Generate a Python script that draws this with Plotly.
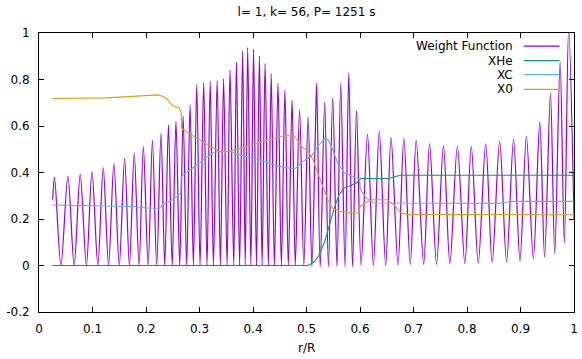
import plotly.graph_objects as go

# ---------------- data ----------------
title_text = "l= 1, k= 56, P= 1251 s"
x_label = "r/R"
series_names = ["Weight Function", "XHe", "XC", "X0"]
series_colors = ["#9400D3", "#009E73", "#56B4E9", "#E69F00"]

x_tick_vals = [0, 0.1, 0.2, 0.3, 0.4, 0.5, 0.6, 0.7, 0.8, 0.9, 1.0]
x_tick_text = ["0", "0.1", "0.2", "0.3", "0.4", "0.5", "0.6", "0.7", "0.8", "0.9", "1"]
y_tick_vals = [-0.2, 0, 0.2, 0.4, 0.6, 0.8, 1.0]
y_tick_text = ["-0.2", "0", "0.2", "0.4", "0.6", "0.8", "1"]

# Weight function: start/end points, maxima and minima
wf_start = (0.0256, 0.284)
wf_end = (1.0, 0.20)
wf_peak_x = [0.029, 0.054, 0.077, 0.099, 0.120, 0.140, 0.160, 0.178, 0.195, 0.212,
             0.228, 0.242, 0.256, 0.2694, 0.2824, 0.2948, 0.3078, 0.320, 0.333, 0.345,
             0.357, 0.369, 0.3806, 0.390, 0.401, 0.412, 0.4226, 0.434, 0.4467, 0.4596,
             0.473, 0.487, 0.503, 0.5165, 0.519, 0.534, 0.549, 0.564, 0.579, 0.5935,
             0.614, 0.636, 0.658, 0.682, 0.705, 0.730, 0.756, 0.782, 0.808, 0.835,
             0.861, 0.887, 0.911, 0.936, 0.956, 0.974, 0.990]
wf_peak_y = [0.380, 0.385, 0.392, 0.404, 0.421, 0.438, 0.461, 0.483, 0.513, 0.539,
             0.568, 0.604, 0.620, 0.643, 0.690, 0.777, 0.787, 0.792, 0.795, 0.803,
             0.841, 0.876, 0.922, 0.937, 0.930, 0.902, 0.869, 0.825, 0.785, 0.754,
             0.712, 0.670, 0.639, 0.575, 0.785, 0.703, 0.722, 0.785, 0.827, 0.666,
             0.564, 0.576, 0.551, 0.547, 0.537, 0.524, 0.516, 0.513, 0.513, 0.523,
             0.534, 0.542, 0.556, 0.618, 0.740, 0.875, 1.020]
wf_trough_x = [0.041, 0.0657, 0.0886, 0.110, 0.130, 0.150, 0.169, 0.187, 0.204, 0.220,
               0.235, 0.249, 0.263, 0.276, 0.2886, 0.301, 0.314, 0.326, 0.339, 0.3515,
               0.364, 0.375, 0.3855, 0.396, 0.4065, 0.417, 0.4287, 0.440, 0.453, 0.466,
               0.479, 0.495, 0.510, 0.5256, 0.541, 0.557, 0.572, 0.586, 0.602, 0.625,
               0.648, 0.671, 0.694, 0.719, 0.743, 0.768, 0.796, 0.821, 0.847, 0.874,
               0.899, 0.924, 0.945, 0.964, 0.982]
wf_trough_y = [0, 0, 0, 0, 0, 0, 0, 0, 0, 0,
               0, 0, 0, 0, 0, 0, 0, 0, 0, 0,
               0, 0, 0, 0, 0, 0, 0, 0, 0, 0,
               0, 0, -0.005, -0.007, -0.005, -0.005, -0.007, -0.005, 0.0, 0.0,
               0.0, 0.003, 0.005, 0.005, 0.006, 0.007, 0.008, 0.010, 0.013, 0.015,
               0.020, 0.029, 0.036, 0.050, 0.097]

# Helium mass fraction
xhe_x = [0.025, 0.503, 0.515, 0.524, 0.534, 0.543, 0.552, 0.561, 0.571, 0.583,
         0.595, 0.601, 0.654, 0.663, 0.676, 1.0]
xhe_y = [0.0, 0.0, 0.017, 0.046, 0.103, 0.175, 0.247, 0.305, 0.334, 0.344,
         0.358, 0.374, 0.374, 0.381, 0.388, 0.388]

# Carbon mass fraction
xc_x = [0.025, 0.176, 0.200, 0.225, 0.234, 0.2496, 0.262, 0.265, 0.266, 0.290,
        0.308, 0.327, 0.339, 0.355, 0.373, 0.410, 0.447, 0.466, 0.478, 0.4935,
        0.509, 0.521, 0.534, 0.540, 0.549, 0.558, 0.571, 0.586, 0.5985, 0.601,
        0.611, 0.620, 0.629, 0.858, 0.882, 1.0]
xc_y = [0.260, 0.254, 0.247, 0.246, 0.266, 0.283, 0.305, 0.310, 0.384, 0.427,
        0.456, 0.487, 0.491, 0.491, 0.477, 0.456, 0.427, 0.420, 0.415, 0.448,
        0.470, 0.513, 0.546, 0.542, 0.499, 0.441, 0.398, 0.384, 0.372, 0.326,
        0.293, 0.276, 0.269, 0.267, 0.276, 0.276]

# Oxygen mass fraction
xo_x = [0.025, 0.126, 0.222, 0.231, 0.240, 0.2496, 0.262, 0.266, 0.2665, 0.274,
        0.299, 0.324, 0.339, 0.355, 0.373, 0.410, 0.441, 0.460, 0.478, 0.490,
        0.503, 0.512, 0.521, 0.531, 0.540, 0.549, 0.561, 0.580, 0.5985, 0.600,
        0.611, 0.623, 0.651, 0.663, 0.676, 0.688, 1.0]
xo_y = [0.718, 0.721, 0.734, 0.728, 0.714, 0.688, 0.678, 0.657, 0.592, 0.578,
        0.542, 0.506, 0.487, 0.491, 0.502, 0.528, 0.549, 0.559, 0.556, 0.513,
        0.491, 0.456, 0.398, 0.341, 0.283, 0.247, 0.233, 0.228, 0.226, 0.254,
        0.272, 0.283, 0.283, 0.262, 0.228, 0.220, 0.2185]

# ---------------- build the weight-function polyline from the read extrema ----------------
wf_pts = [wf_start] + list(zip(wf_peak_x, wf_peak_y)) + list(zip(wf_trough_x, wf_trough_y)) + [wf_end]
wf_pts.sort(key=lambda p: p[0])
wf_x = [p[0] for p in wf_pts]
wf_y = [p[1] for p in wf_pts]

FONT = "DejaVu Sans"

fig = go.Figure()
fig.add_trace(go.Scatter(x=wf_x, y=wf_y, mode="lines", name=series_names[0],
                         line=dict(color=series_colors[0], width=1.2, shape="spline", smoothing=0.9)))
fig.add_trace(go.Scatter(x=xhe_x, y=xhe_y, mode="lines", name=series_names[1],
                         line=dict(color=series_colors[1], width=1.1)))
fig.add_trace(go.Scatter(x=xc_x, y=xc_y, mode="lines", name=series_names[2],
                         line=dict(color=series_colors[2], width=1.1)))
fig.add_trace(go.Scatter(x=xo_x, y=xo_y, mode="lines", name=series_names[3],
                         line=dict(color=series_colors[3], width=1.1)))

# gnuplot-style key: right-aligned labels with line samples on the right
key_y = [0.953, 0.901, 0.851, 0.798]
annotations = []
shapes = []
for name, color, ky in zip(series_names, series_colors, key_y):
    annotations.append(dict(xref="paper", yref="paper", x=0.8905, y=ky, text=name,
                            showarrow=False, xanchor="right", yanchor="middle",
                            font=dict(family=FONT, size=12, color="black")))
    shapes.append(dict(type="line", xref="paper", yref="paper", x0=0.906, x1=0.973,
                       y0=ky, y1=ky, line=dict(color=color, width=1.2)))

annotations.append(dict(xref="paper", yref="paper", x=0.5, y=-0.129, text=x_label,
                        showarrow=False, xanchor="center", yanchor="middle",
                        font=dict(family=FONT, size=12, color="black")))

fig.update_layout(
    width=582, height=359,
    margin=dict(l=39, r=4, t=33, b=47),
    paper_bgcolor="white", plot_bgcolor="white",
    showlegend=False,
    title=dict(text=title_text, x=0.5, xref="paper", xanchor="center",
               y=1 - 12 / 359, yref="container", yanchor="middle",
               font=dict(family=FONT, size=12, color="black")),
    font=dict(family=FONT, size=12, color="black"),
    annotations=annotations,
    shapes=shapes,
)
fig.update_xaxes(range=[0, 1], tickvals=x_tick_vals, ticktext=x_tick_text,
                 showgrid=False, zeroline=False, showline=True, linecolor="black", linewidth=1,
                 mirror="ticks", ticks="inside", ticklen=5, tickcolor="black",
                 ticklabelstandoff=6, tickfont=dict(family=FONT, size=12, color="black"))
fig.update_yaxes(range=[-0.2, 1], tickvals=y_tick_vals, ticktext=y_tick_text,
                 showgrid=False, zeroline=False, showline=True, linecolor="black", linewidth=1,
                 mirror="ticks", ticks="inside", ticklen=5, tickcolor="black",
                 ticklabelstandoff=6, tickfont=dict(family=FONT, size=12, color="black"))

fig.write_html("out.html")
